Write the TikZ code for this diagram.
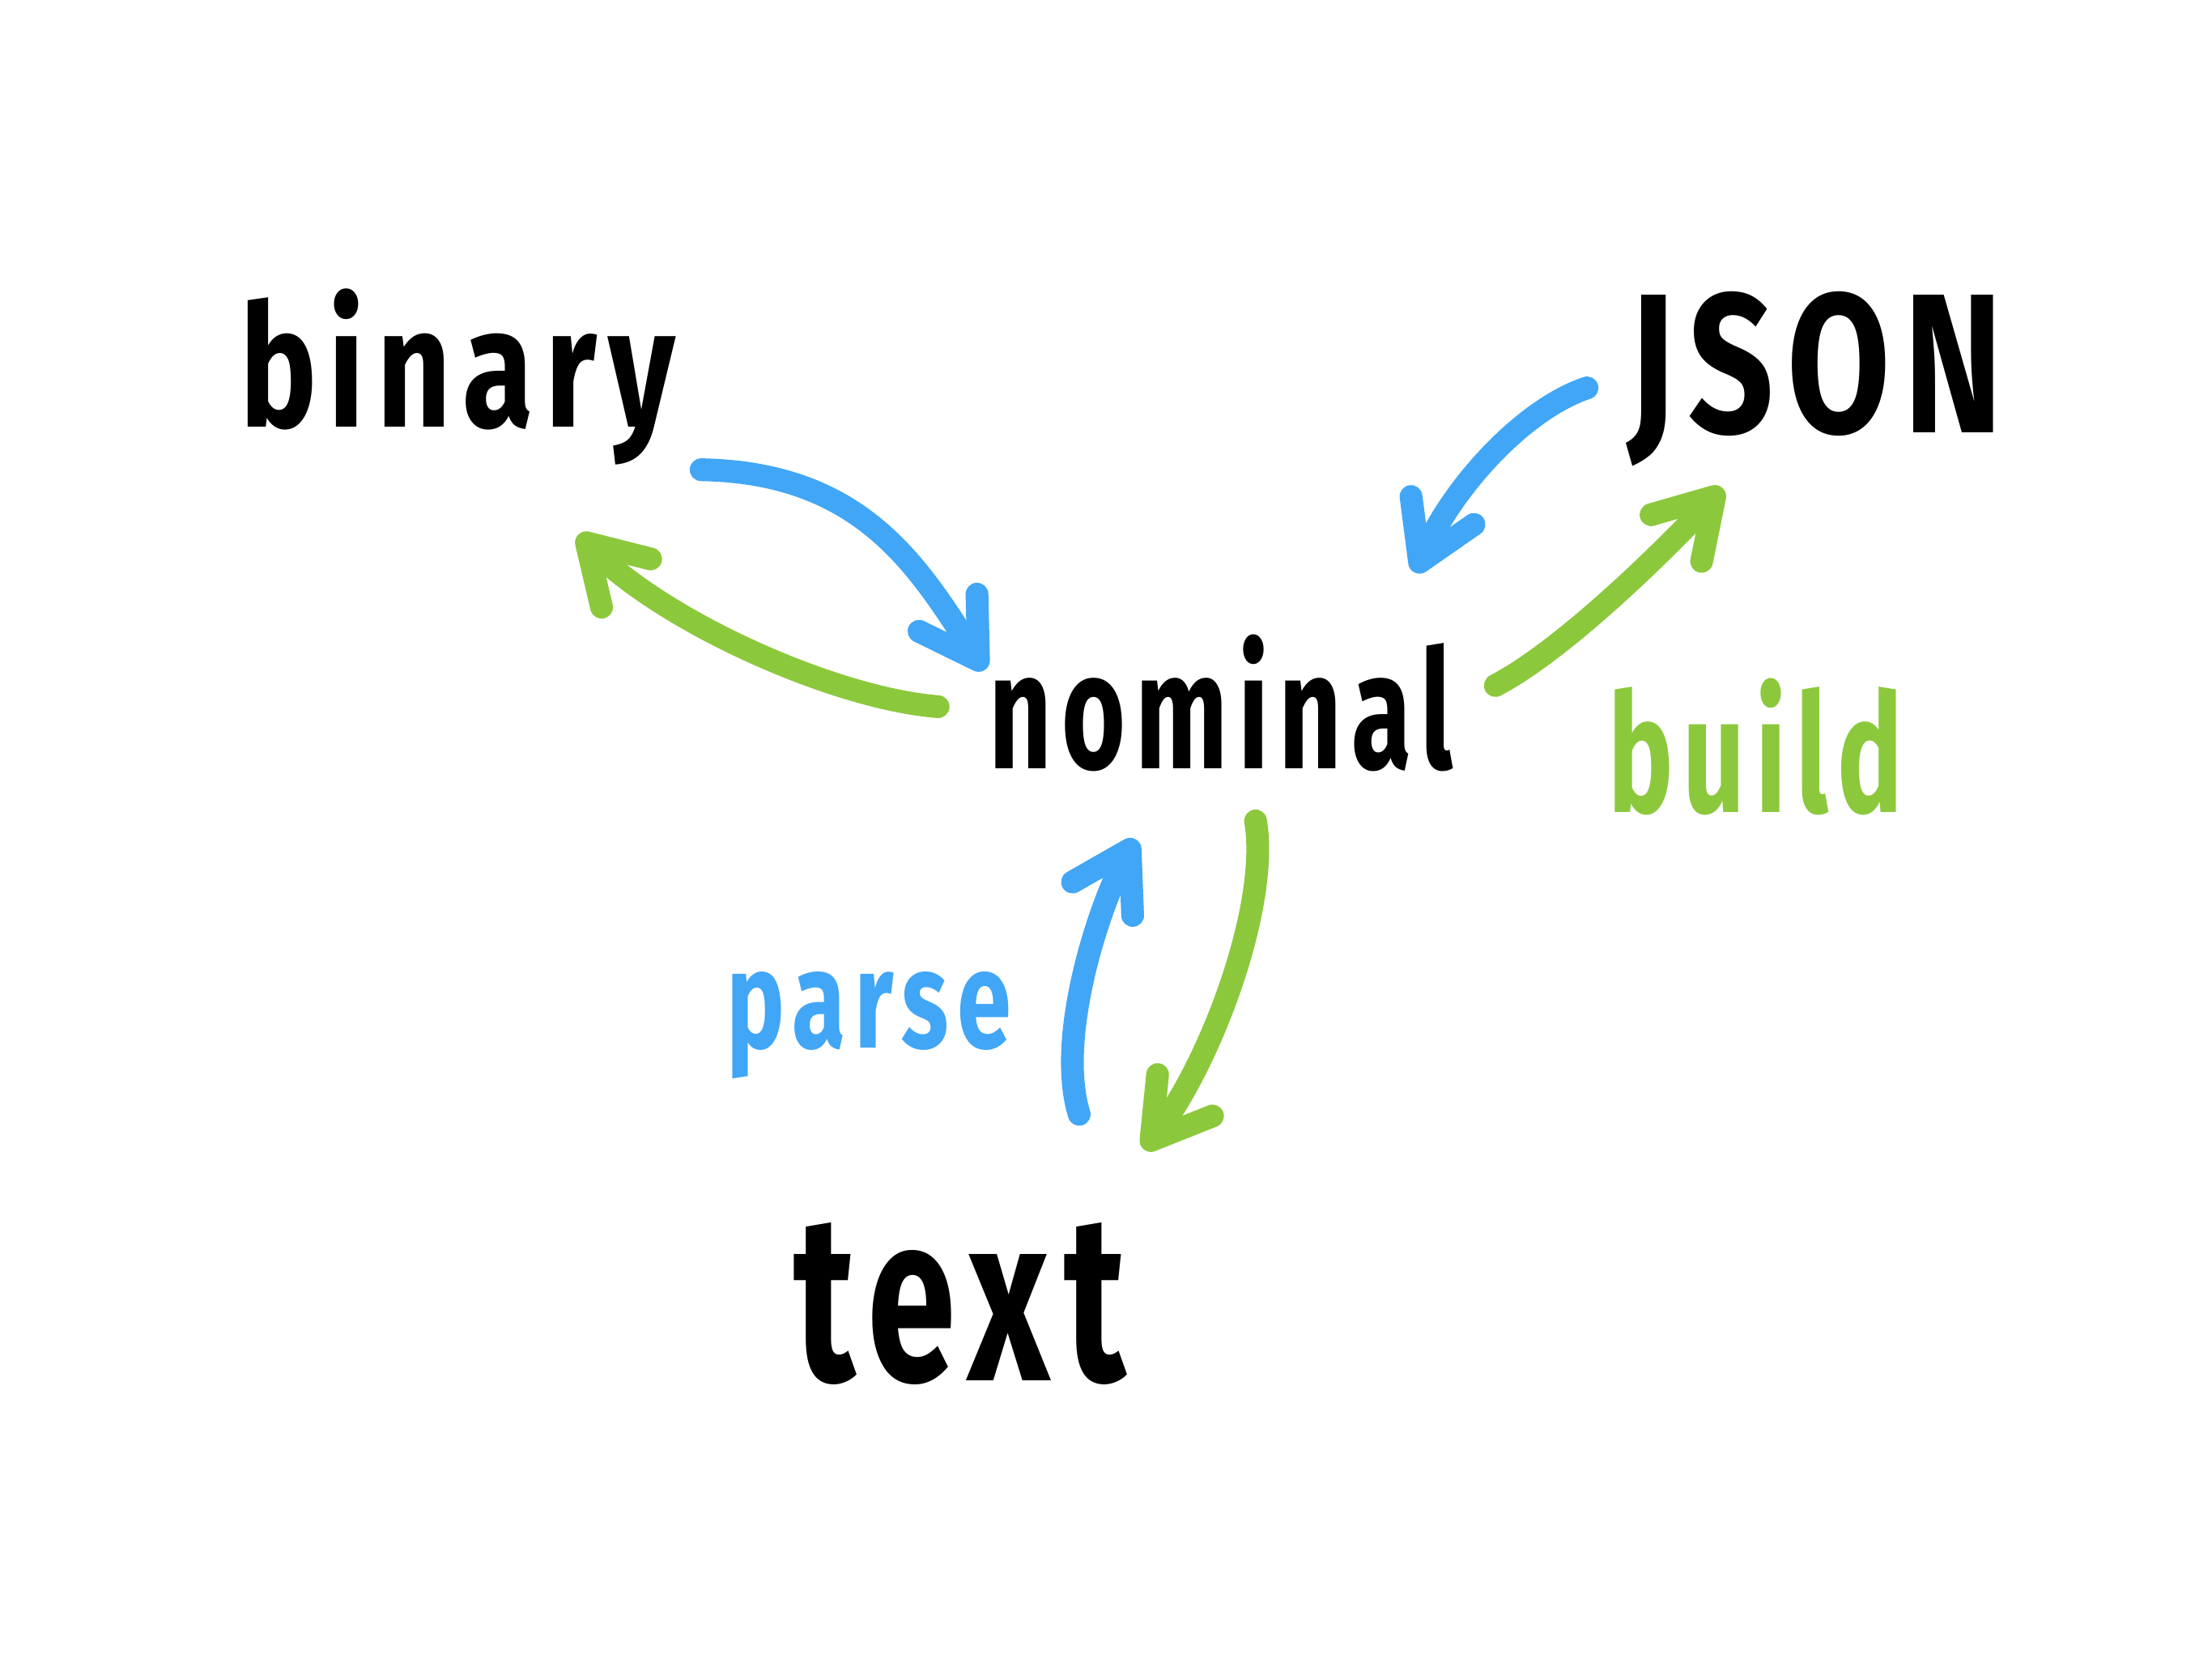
\documentclass[tikz,border=0pt]{standalone}
\usepackage{fontspec}
\setmainfont{Fira Sans}
\usetikzlibrary{arrows.meta}
\definecolor{penblue}{HTML}{41A6F6}
\definecolor{pengreen}{HTML}{8CC83C}
\newdimen\su
\su=0.017423cm
\newcommand{\fitword}[3]{\resizebox{#1\su}{#2\su}{\fontsize{40}{48}\selectfont\bfseries\addfontfeature{LetterSpace=9}#3}}
\tikzset{
  word/.style={inner sep=0pt, outer sep=0pt, anchor=base west},
  pen/.style={line width=8pt, line cap=round, line join=round,
    -{Straight Barb[length=7mm,width=8.5mm,round]}},
  bluepen/.style={pen, draw=penblue},
  greenpen/.style={pen, draw=pengreen}
}
\begin{document}
\begin{tikzpicture}[x=0.017423cm, y=-0.017423cm]
\fill[white] (0,0) rectangle (1568,1175);
\useasboundingbox (0,0) rectangle (1568,1175);

% words
\node[word] (binary)  at (170,303) {\fitword{309}{98}{binary}};
\node[word] (json)    at (1154,307) {\fitword{266}{100}{JSON}};
\node[word] (nominal) at (701,545) {\fitword{329}{95}{nominal}};
\node[word] (text)    at (563,979) {\fitword{235}{112}{text}};
\node[word, text=pengreen] (build) at (1140,576) {\fitword{209}{95}{build}};
\node[word, text=penblue]  (parse) at (515,743) {\fitword{202}{54}{parse}};

% arrow end points
\coordinate (b1s) at (497,333);  \coordinate (b1e) at (698,475);
\coordinate (g1s) at (665,501);  \coordinate (g1e) at (410,379);
\coordinate (b2s) at (1125,275); \coordinate (b2e) at (1003,406);
\coordinate (g2s) at (1060,486); \coordinate (g2e) at (1221,346);
\coordinate (b3s) at (765,790);  \coordinate (b3e) at (805,595);
\coordinate (g3s) at (890,582);  \coordinate (g3e) at (811,815);

% binary <-> nominal
\draw[bluepen]  (b1s) .. controls (610,335) and (650,400) .. (b1e);
\draw[greenpen] (g1s) .. controls (590,495) and (470,440) .. (g1e);
% JSON <-> nominal
\draw[bluepen]  (b2s) .. controls (1080,290) and (1030,345) .. (b2e);
\draw[greenpen] (g2s) .. controls (1110,460) and (1185,385) .. (g2e);
% text <-> nominal
\draw[bluepen]  (b3s) .. controls (748,735) and (780,640) .. (b3e);
\draw[greenpen] (g3s) .. controls (900,640) and (860,750) .. (g3e);
\end{tikzpicture}
\end{document}
